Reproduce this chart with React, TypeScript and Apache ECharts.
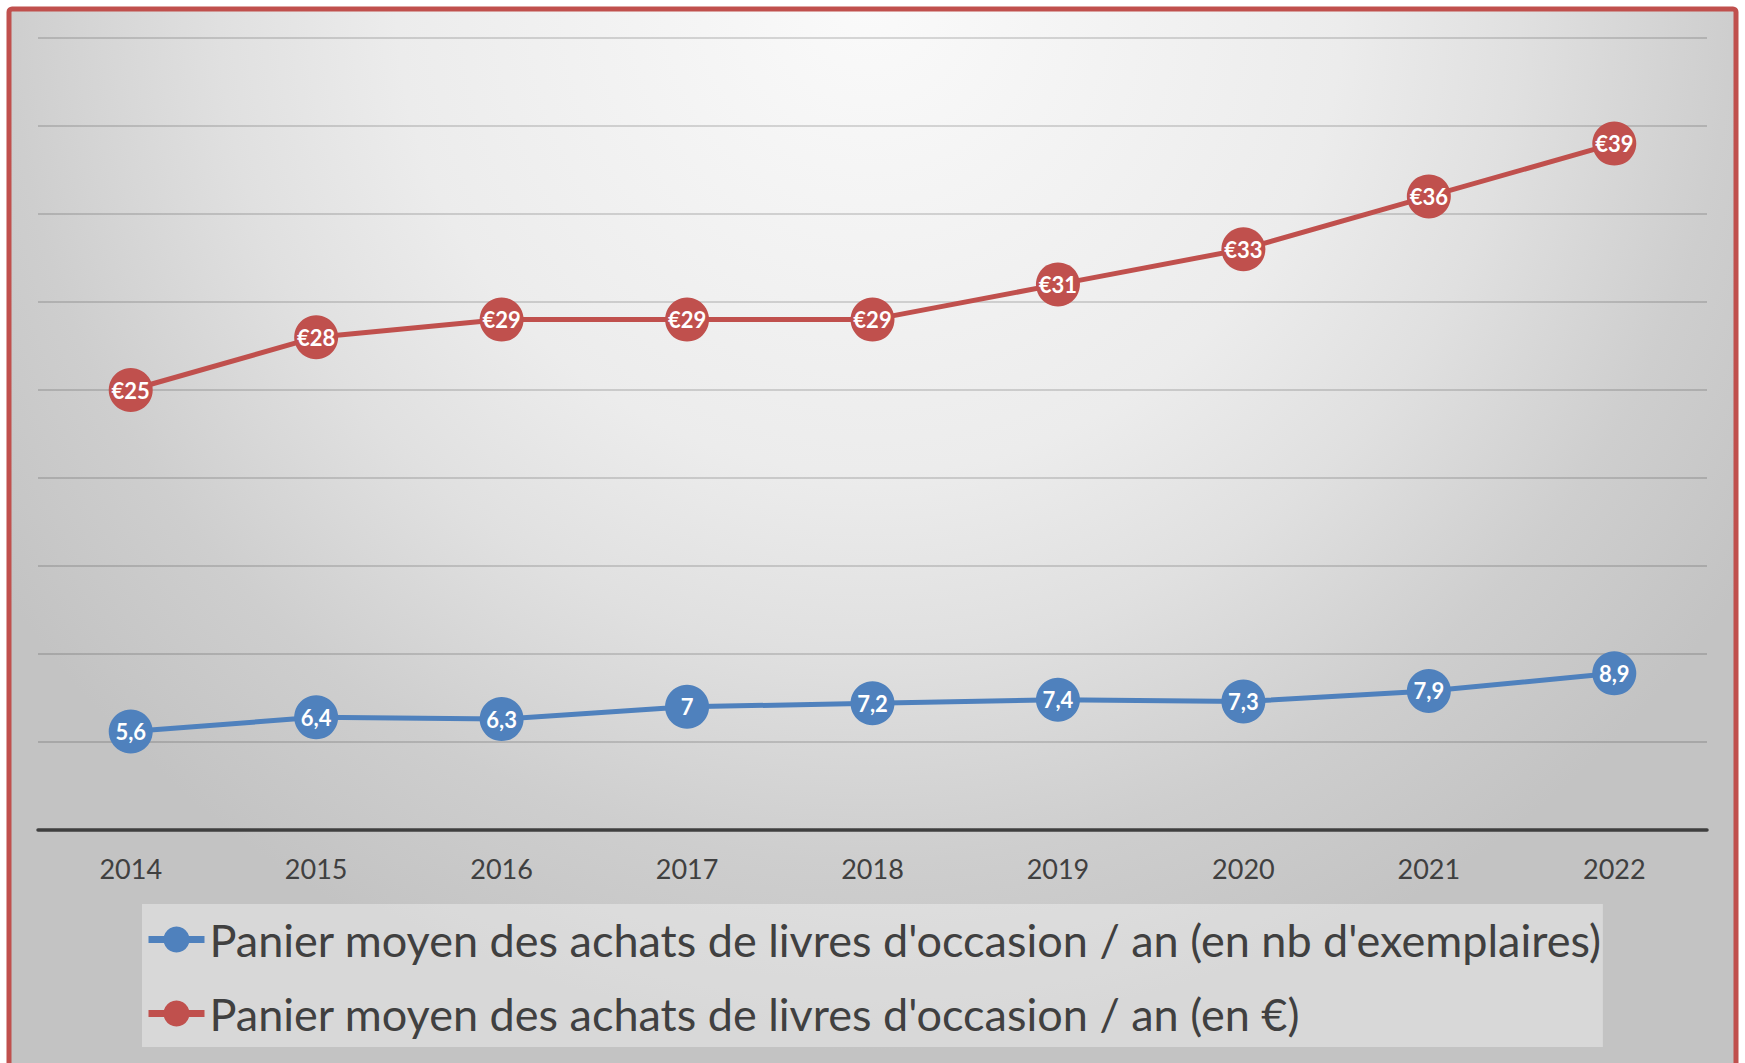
import React, { useEffect, useRef } from "react";
import * as echarts from "echarts";

const years = ["2014", "2015", "2016", "2017", "2018", "2019", "2020", "2021", "2022"];
const copiesPerYear = [5.6, 6.4, 6.3, 7.0, 7.2, 7.4, 7.3, 7.9, 8.9];
const eurosPerYear = [25, 28, 29, 29, 29, 31, 33, 36, 39];
const seriesNames = [
  "Panier moyen des achats de livres d'occasion / an (en nb d'exemplaires)",
  "Panier moyen des achats de livres d'occasion / an (en €)",
];
const yMin = 0;
const yMax = 45;
const yStep = 5;

const BLUE = "#4F81BD";
const RED = "#C0504D";
const FONT = "Lato, 'Open Sans', sans-serif";

export default function App() {
  const ref = useRef<HTMLDivElement>(null);

  useEffect(() => {
    document.body.style.margin = "0";
    const chart = echarts.init(ref.current!, null, { renderer: "svg" });
    const bg = new echarts.graphic.RadialGradient(
      870,
      0,
      1050,
      [
        { offset: 0, color: "#fafafa" },
        { offset: 0.45, color: "#ececec" },
        { offset: 0.62, color: "#e0e0e0" },
        { offset: 0.82, color: "#cecece" },
        { offset: 1, color: "#c3c3c3" },
      ],
      true
    );
    const labelStyle = {
      show: true,
      position: "inside",
      color: "#ffffff",
      fontFamily: FONT,
      fontWeight: "bold",
      fontSize: 22,
    };
    chart.setOption({
      animation: false,
      backgroundColor: "#ffffff",
      graphic: [
        {
          type: "rect",
          z: -100,
          silent: true,
          shape: { x: 9, y: 9, width: 1727, height: 1080, r: 3 },
          style: { fill: bg, stroke: RED, lineWidth: 5 },
        },
      ],
      grid: { left: 38, right: 38, top: 38, bottom: 233, containLabel: false },
      xAxis: {
        type: "category",
        data: years,
        boundaryGap: true,
        axisLine: { show: true, lineStyle: { color: "#3f3f3f", width: 3.5 } },
        axisTick: { show: false },
        axisLabel: { color: "#404040", fontFamily: FONT, fontSize: 27, margin: 25 },
        splitLine: { show: false },
      },
      yAxis: {
        type: "value",
        min: yMin,
        max: yMax,
        interval: yStep,
        axisLine: { show: false },
        axisTick: { show: false },
        axisLabel: { show: false },
        splitLine: { show: true, lineStyle: { color: "rgba(0,0,0,0.19)", width: 1.5 } },
      },
      legend: {
        orient: "vertical",
        left: 142,
        top: 904,
        padding: [13, 1, 11, 3],
        itemGap: 29,
        itemWidth: 56,
        itemHeight: 32.5,
        backgroundColor: "rgba(255,255,255,0.35)",
        textStyle: { color: "#404040", fontFamily: FONT, fontSize: 45 },
        lineStyle: { width: 7 },
        data: seriesNames,
      },
      series: [
        {
          name: seriesNames[0],
          type: "line",
          data: copiesPerYear,
          symbol: "circle",
          symbolSize: 44,
          lineStyle: { color: BLUE, width: 5 },
          itemStyle: { color: BLUE },
          label: {
            ...labelStyle,
            formatter: (p: any) => String(p.value).replace(".", ","),
          },
        },
        {
          name: seriesNames[1],
          type: "line",
          data: eurosPerYear,
          symbol: "circle",
          symbolSize: 44,
          lineStyle: { color: RED, width: 5 },
          itemStyle: { color: RED },
          label: {
            ...labelStyle,
            formatter: (p: any) => "€" + p.value,
          },
        },
      ],
    });
    return () => chart.dispose();
  }, []);

  return (
    <div
      ref={ref}
      style={{ position: "absolute", left: 0, top: 0, width: 1745, height: 1063, overflow: "hidden" }}
    />
  );
}
